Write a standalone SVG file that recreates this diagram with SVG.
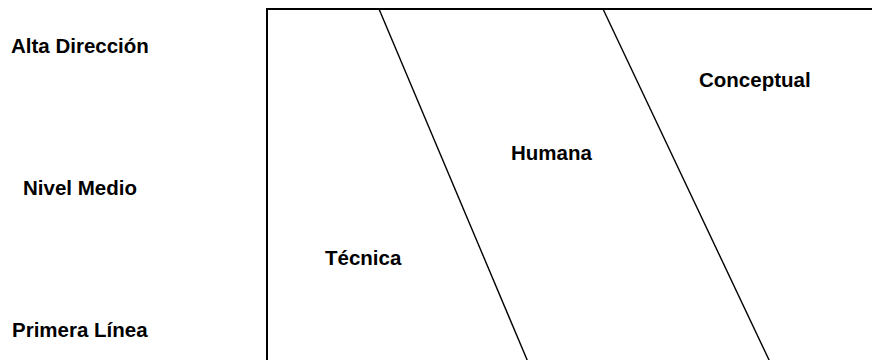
<svg xmlns="http://www.w3.org/2000/svg" width="872" height="360" viewBox="0 0 872 360">
<style>
.lbl{font-family:"Liberation Sans",Arial,sans-serif;font-weight:bold;font-size:20.5px;fill:#000}
.frame{fill:none;stroke:#000;stroke-width:2}
.div{fill:none;stroke:#000;stroke-width:1.4}
</style>
<rect width="872" height="360" fill="#fff"/>
<g id="levels">
<text class="lbl" x="11" y="53">Alta Dirección</text>
<text class="lbl" x="23" y="195">Nivel Medio</text>
<text class="lbl" x="12" y="337">Primera Línea</text>
</g>
<g id="frame">
<path class="frame" d="M267,362 V9 H874"/>
</g>
<g id="connectors">
<line class="div" x1="379" y1="9" x2="528" y2="362"/>
<line class="div" x1="603" y1="9" x2="770" y2="362"/>
</g>
<g id="tecnica"><text class="lbl" x="325" y="265">Técnica</text></g>
<g id="humana"><text class="lbl" x="511" y="160">Humana</text></g>
<g id="conceptual"><text class="lbl" x="699" y="87">Conceptual</text></g>
</svg>
